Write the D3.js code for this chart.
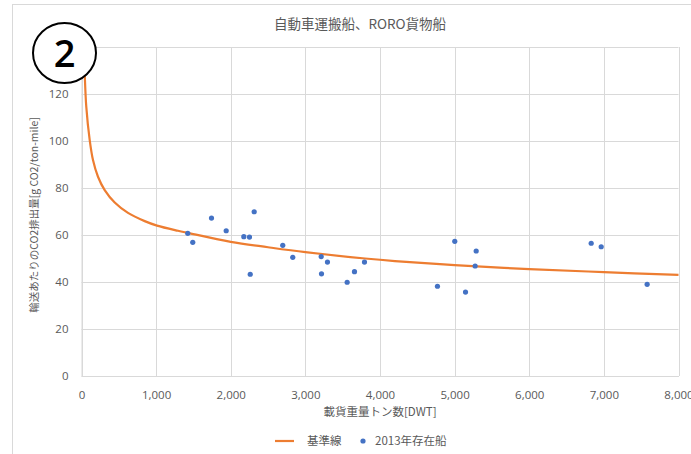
<!DOCTYPE html>
<html><head><meta charset="utf-8">
<script src="https://cdn.jsdelivr.net/npm/d3@7"></script>
<style>
html,body{margin:0;padding:0;background:#fff;}
svg{display:block;}
</style>
</head><body>
<svg id="chart" width="691" height="454"></svg>
<script>
// ---- data ----
const title = "自動車運搬船、RORO貨物船";
const xTitle = "載貨重量トン数[DWT]";
const yTitle = "輸送あたりのCO2排出量[g CO2/ton-mile]";
const legendNames = ["基準線", "2013年存在船"];
const xTicks = [0,1000,2000,3000,4000,5000,6000,7000,8000];
const yTicks = [0,20,40,60,80,100,120,140];
const yTickLabels = ["0","20","40","60","80","100","120",""];

// baseline curve readings
const baseDWT = [28, 43, 64, 110, 154, 221, 311, 445, 623, 847, 1012, 1293, 1424, 2000, 2500, 3000, 3800, 4200, 5000, 6000, 7000, 8000];
const baseVal = [145, 128.8, 114.6, 100.4, 91.9, 84.8, 79.1, 73.8, 69.4, 65.9, 64.0, 61.8, 60.9, 57.1, 54.8, 52.7, 50.0, 48.9, 47.2, 45.5, 44.2, 43.0];

// 2013 existing ships
const shipDWT = [1424,1491,1742,1939,2175,2251,2314,2261,2697,2831,3212,3216,3296,3658,3560,3792,5002,5289,5275,4770,5146,6830,6964,7580];
const shipVal = [60.7,56.9,67.2,61.8,59.3,59.1,69.9,43.3,55.6,50.5,50.8,43.5,48.5,44.4,39.9,48.5,57.3,53.2,46.8,38.2,35.7,56.5,55.0,39.0];

// ---- drawing ----
const svg = d3.select("#chart");
const L = 81.5, R = 678.5, T = 47, B = 376;
const x = d3.scaleLinear().domain([0,8000]).range([L,R]);
const y = d3.scaleLinear().domain([0,140]).range([B,T]);
const txt = "#595959", grid = "#d9d9d9";
const jp = "'Noto Sans CJK JP', 'Noto Sans', sans-serif";
const num = "'Open Sans', 'Noto Sans', sans-serif";

// outer chart border
svg.append("rect").attr("x",12.5).attr("y",4.5).attr("width",720).attr("height",520)
  .attr("fill","none").attr("stroke",grid).attr("stroke-width",1);

// gridlines
svg.append("g").selectAll("line.h").data(yTicks).join("line")
  .attr("x1",L).attr("x2",R).attr("y1",d=>Math.round(y(d))+0.5).attr("y2",d=>Math.round(y(d))+0.5)
  .attr("stroke",grid).attr("stroke-width",1);
svg.append("g").selectAll("line.v").data(xTicks).join("line")
  .attr("y1",T).attr("y2",B).attr("x1",d=>Math.round(x(d))+0.5).attr("x2",d=>Math.round(x(d))+0.5)
  .attr("stroke",grid).attr("stroke-width",1);

// axes (labels only)
const xAxis = svg.append("g").attr("transform",`translate(0,${B})`)
  .call(d3.axisBottom(x).tickValues(xTicks).tickSize(0).tickPadding(15).tickFormat(d3.format(",")));
xAxis.select(".domain").attr("stroke",grid);
xAxis.selectAll("text").attr("fill",txt).style("font-family",num).style("font-size","11.5px");

const yAxis = svg.append("g").attr("transform",`translate(${L},0)`)
  .call(d3.axisLeft(y).tickValues(yTicks).tickSize(0).tickPadding(13).tickFormat((d,i)=>yTickLabels[i]));
yAxis.select(".domain").attr("stroke",grid);
yAxis.selectAll("text").attr("fill",txt).style("font-family",num).style("font-size","11.5px");

// clip
svg.append("clipPath").attr("id","clip").append("rect")
  .attr("x",L).attr("y",T-20).attr("width",R-L+10).attr("height",B-T+20);

// baseline curve
const baseData = baseDWT.map((d,i)=>({x:d,y:baseVal[i]}));
svg.append("path").datum(baseData)
  .attr("clip-path","url(#clip)")
  .attr("fill","none").attr("stroke","#ED7D31").attr("stroke-width",2.2)
  .attr("d", d3.line().x(d=>x(d.x)).y(d=>y(d.y)).curve(d3.curveCatmullRom.alpha(0.5)));

// ship points
svg.append("g").selectAll("circle").data(shipDWT.map((d,i)=>({x:d,y:shipVal[i]}))).join("circle")
  .attr("cx",d=>x(d.x)).attr("cy",d=>y(d.y)).attr("r",2.6).attr("fill","#4472C4");

// title
svg.append("text").attr("x",360).attr("y",29).attr("text-anchor","middle")
  .attr("fill",txt).style("font-family",jp).style("font-size","13.5px").text(title);

// axis titles
svg.append("text").attr("x",380).attr("y",416).attr("text-anchor","middle")
  .attr("fill",txt).style("font-family",jp).style("font-size","11.5px").text(xTitle);
svg.append("text").attr("transform","translate(38,215) rotate(-90)").attr("text-anchor","middle")
  .attr("fill",txt).style("font-family",jp).style("font-size","10.5px").text(yTitle);

// legend
const lg = svg.append("g");
lg.append("line").attr("x1",275).attr("x2",294).attr("y1",441).attr("y2",441)
  .attr("stroke","#ED7D31").attr("stroke-width",2.2);
lg.append("text").attr("x",307).attr("y",445).attr("fill",txt).style("font-family",jp).style("font-size","11.5px").text(legendNames[0]);
lg.append("circle").attr("cx",363).attr("cy",441).attr("r",2.6).attr("fill","#4472C4");
lg.append("text").attr("x",375).attr("y",445).attr("fill",txt).style("font-family",jp).style("font-size","11.5px").text(legendNames[1]);

// circled number annotation
svg.append("ellipse").attr("cx",64.5).attr("cy",53).attr("rx",31.5).attr("ry",30)
  .attr("fill","#fff").attr("stroke","#000").attr("stroke-width",2);
svg.append("text").attr("x",64.5).attr("y",66.5).attr("text-anchor","middle")
  .attr("fill","#000").style("font-family","'Open Sans', 'Liberation Sans', sans-serif").style("font-weight","600").style("font-size","38px").text("2");
</script>
</body></html>
